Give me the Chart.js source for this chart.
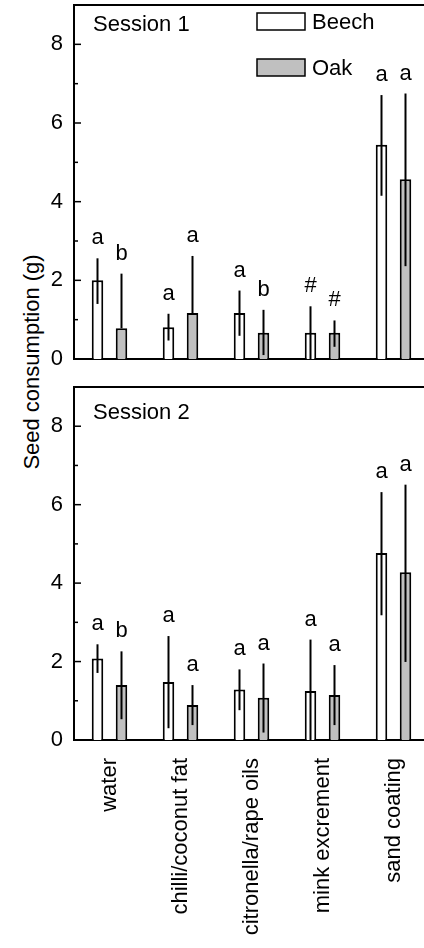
<!DOCTYPE html>
<html>
<head>
  <meta name="viewport" content="width=device-width, initial-scale=1.0">
  <script src="https://cdn.jsdelivr.net/npm/chart.js@4"></script>
  <style>
    body { margin: 0; width: 424px; height: 948px; overflow: hidden; background: #fff; position: relative;
           font-family: "Liberation Sans", Arial, sans-serif; }
    #c1 { position: absolute; left: 0; top: 0; }
    #c2 { position: absolute; left: 0; top: 380px; }
    #ytitle { position: absolute; left: 32px; top: 362px; transform: translate(-50%, -50%) rotate(-90deg);
              font-size: 22px; white-space: nowrap; color: #000; }
  </style>
</head>
<body>
  <div id="ytitle">Seed consumption (g)</div>
  <canvas id="c1" width="430" height="365"></canvas>
  <canvas id="c2" width="430" height="568"></canvas>
  <script>
  const categories = ['water', 'chilli/coconut fat', 'citronella/rape oils', 'mink excrement', 'sand coating'];

  // session 1 (means, error bar top / bottom, significance letters)
  const s1Beech   = [2.00, 0.81, 1.17, 0.67, 5.45];
  const s1BeechHi = [2.56, 1.15, 1.74, 1.34, 6.71];
  const s1BeechLo = [1.40, 0.47, 0.59, 0.00, 4.15];
  const s1BeechMk = ['a', 'a', 'a', '#', 'a'];
  const s1Oak     = [0.78, 1.17, 0.67, 0.67, 4.57];
  const s1OakHi   = [2.17, 2.62, 1.25, 0.98, 6.75];
  const s1OakLo   = [null, null, 0.10, 0.31, 2.36];
  const s1OakMk   = ['b', 'a', 'b', '#', 'a'];

  // session 2
  const s2Beech   = [2.08, 1.48, 1.29, 1.25, 4.77];
  const s2BeechHi = [2.44, 2.65, 1.80, 2.56, 6.32];
  const s2BeechLo = [1.71, 0.30, 0.76, 0.00, 3.18];
  const s2BeechMk = ['a', 'a', 'a', 'a', 'a'];
  const s2Oak     = [1.40, 0.89, 1.08, 1.15, 4.28];
  const s2OakHi   = [2.26, 1.40, 1.95, 1.91, 6.51];
  const s2OakLo   = [0.53, 0.38, 0.19, 0.38, 1.99];
  const s2OakMk   = ['b', 'a', 'a', 'a', 'a'];

  const yTicks = [0, 1, 2, 3, 4, 5, 6, 7, 8, 9];

  Chart.defaults.font.family = '"Liberation Sans", Arial, sans-serif';
  Chart.defaults.font.size = 22;
  Chart.defaults.color = '#000';

  function makeDatasets(b, bHi, bLo, bMk, o, oHi, oLo, oMk) {
    return [
      { label: 'Beech', data: b, hi: bHi, lo: bLo, marks: bMk,
        backgroundColor: '#ffffff', borderColor: '#000', borderWidth: 2 },
      { label: 'Oak', data: o, hi: oHi, lo: oLo, marks: oMk,
        backgroundColor: '#c0c0c0', borderColor: '#000', borderWidth: 2 }
    ];
  }

  // error bars, letters, inward ticks, frame top, title and legend
  function decor(title, titleY, legend) {
    return {
      id: 'decor',
      afterDatasetsDraw(chart) {
        const ctx = chart.ctx, y = chart.scales.y, area = chart.chartArea;
        ctx.save();
        chart.data.datasets.forEach((ds, d) => {
          chart.getDatasetMeta(d).data.forEach((bar, i) => {
            const top = y.getPixelForValue(ds.hi[i]);
            const bot = y.getPixelForValue(ds.lo[i] === null ? ds.data[i] : ds.lo[i]);
            ctx.strokeStyle = '#000';
            ctx.lineWidth = 2;
            ctx.beginPath();
            ctx.moveTo(bar.x, top);
            ctx.lineTo(bar.x, bot);
            ctx.stroke();
            ctx.fillStyle = '#000';
            ctx.font = '22px "Liberation Sans", Arial, sans-serif';
            ctx.textAlign = 'center';
            ctx.textBaseline = 'alphabetic';
            ctx.fillText(ds.marks[i], bar.x, top - 14);
          });
        });

        // inward ticks
        ctx.lineWidth = 1.5;
        yTicks.forEach(v => {
          const py = y.getPixelForValue(v);
          ctx.beginPath();
          ctx.moveTo(area.left, py);
          ctx.lineTo(area.left + (v % 2 ? 4 : 7), py);
          ctx.stroke();
        });

        // top frame line
        ctx.lineWidth = 2;
        ctx.beginPath();
        ctx.moveTo(area.left - 1, area.top);
        ctx.lineTo(area.right, area.top);
        ctx.stroke();

        ctx.font = '22px "Liberation Sans", Arial, sans-serif';
        ctx.textAlign = 'left';
        ctx.textBaseline = 'middle';
        ctx.fillText(title, area.left + 19, titleY);

        if (legend) {
          const rows = [21.5, 67.5];
          chart.data.datasets.forEach((ds, d) => {
            ctx.fillStyle = ds.backgroundColor;
            ctx.fillRect(257, rows[d] - 8.5, 48, 17);
            ctx.strokeStyle = '#000';
            ctx.lineWidth = 1.5;
            ctx.strokeRect(257, rows[d] - 8.5, 48, 17);
            ctx.fillStyle = '#000';
            ctx.fillText(ds.label, 312, rows[d] + 1);
          });
        }
        ctx.restore();
      }
    };
  }

  function noPad(s) {
    s.paddingTop = 0; s.paddingBottom = 0; s.paddingLeft = 0; s.paddingRight = 0;
  }

  function makeOptions(showLabels, xHeight, padTop, padBottom) {
    return {
      responsive: false,
      animation: false,
      layout: { padding: { left: 0, right: 1, top: padTop, bottom: padBottom } },
      plugins: { legend: { display: false }, tooltip: { enabled: false } },
      datasets: { bar: { categoryPercentage: 0.676, barPercentage: 0.48, borderSkipped: 'start' } },
      scales: {
        x: {
          grid: { display: false, drawTicks: false },
          border: { display: true, color: '#000', width: 2 },
          ticks: { display: showLabels, autoSkip: false, minRotation: 90, maxRotation: 90, padding: 18 },
          afterFit: s => { s.height = xHeight; noPad(s); }
        },
        y: {
          min: 0, max: 9,
          grid: { display: false, drawTicks: false },
          border: { display: true, color: '#000', width: 2 },
          ticks: { stepSize: 1, padding: 11, callback: v => (v % 2 === 0 && v < 9) ? v : '' },
          afterFit: s => { s.width = 74; noPad(s); }
        }
      }
    };
  }

  new Chart(document.getElementById('c1'), {
    type: 'bar',
    data: { labels: categories,
            datasets: makeDatasets(s1Beech, s1BeechHi, s1BeechLo, s1BeechMk, s1Oak, s1OakHi, s1OakLo, s1OakMk) },
    options: makeOptions(false, 0, 5, 6),
    plugins: [decor('Session 1', 25, true)]
  });

  new Chart(document.getElementById('c2'), {
    type: 'bar',
    data: { labels: categories,
            datasets: makeDatasets(s2Beech, s2BeechHi, s2BeechLo, s2BeechMk, s2Oak, s2OakHi, s2OakLo, s2OakMk) },
    options: makeOptions(true, 208, 7, 0),
    plugins: [decor('Session 2', 33, false)]
  });
  </script>
</body>
</html>
